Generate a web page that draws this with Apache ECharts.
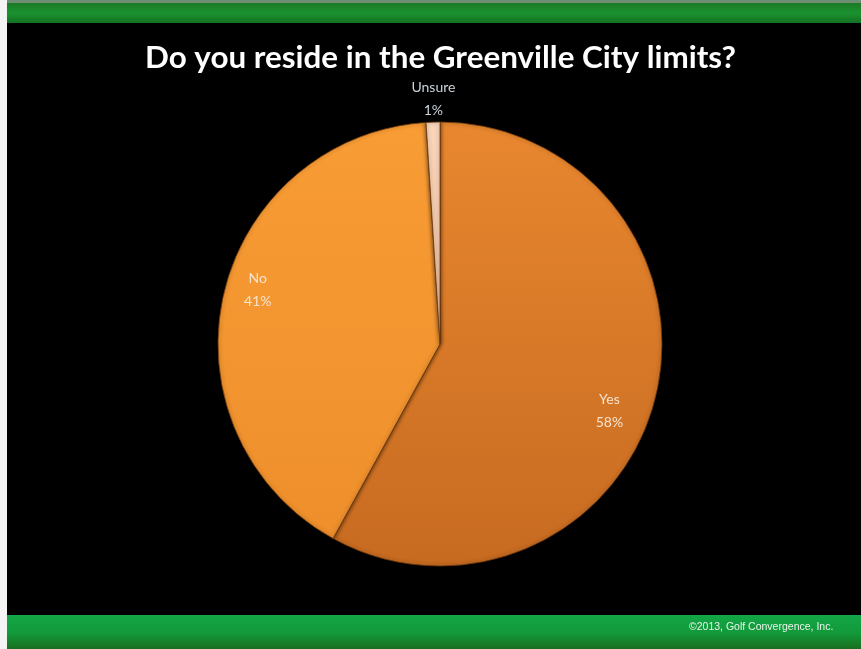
<!DOCTYPE html>
<html>
<head>
<meta charset="utf-8">
<style>
  html, body { margin: 0; padding: 0; background: #000; }
  #chart { width: 861px; height: 649px; }
</style>
<script src="https://cdn.jsdelivr.net/npm/echarts@6/dist/echarts.min.js"></script>
</head>
<body>
<div id="chart"></div>
<script>
// Survey answers and their shares (percent)
const categories = ['Yes', 'No', 'Unsure'];
const shares = [58, 41, 1];

const titleText = 'Do you reside in the Greenville City limits?';
const footerText = '\u00A92013, Golf Convergence, Inc.';

// Slice fills: top colour, bottom colour
const sliceFills = [
  ['#E8872F', '#C76B21'],
  ['#F89C35', '#EE8F2B'],
  ['#FAD6BC', '#F2C09E']
];
// Label nudges away from the default mid-radius spot
const labelShift = [[59, 39], [-71, -29], [-3, -131]];
const labelColors = ['#F6E3CF', '#F6E3CF', '#C9D2DA'];

const chart = echarts.init(document.getElementById('chart'), null, { renderer: 'canvas' });

const seriesData = categories.map((name, i) => ({
  name,
  value: shares[i],
  itemStyle: {
    color: new echarts.graphic.LinearGradient(0, 0, 0, 1, [
      { offset: 0, color: sliceFills[i][0] },
      { offset: 1, color: sliceFills[i][1] }
    ])
  },
  label: { color: labelColors[i] }
}));

chart.setOption({
  backgroundColor: '#000',
  animation: false,
  graphic: [
    // left white margin
    { type: 'rect', shape: { x: 0, y: 0, width: 7, height: 649 }, style: { fill: '#F4F4F4' }, z: 10 },
    // top thin light edge
    { type: 'rect', shape: { x: 0, y: 0, width: 861, height: 3 }, style: { fill: '#6E8E74' }, z: 9 },
    // top green bar
    {
      type: 'rect', shape: { x: 7, y: 3, width: 854, height: 20 },
      style: {
        fill: new echarts.graphic.LinearGradient(0, 0, 0, 1, [
          { offset: 0, color: '#1B7A26' },
          { offset: 0.5, color: '#1C9230' },
          { offset: 1, color: '#137222' }
        ])
      }, z: 9
    },
    // bottom green bar
    {
      type: 'rect', shape: { x: 7, y: 615, width: 854, height: 34 },
      style: {
        fill: new echarts.graphic.LinearGradient(0, 0, 0, 1, [
          { offset: 0, color: '#12A646' },
          { offset: 0.55, color: '#13993A' },
          { offset: 1, color: '#1A6E1E' }
        ])
      }, z: 9
    },
    {
      type: 'text', left: 689, top: 622, z: 11,
      style: {
        text: footerText, fill: '#E8F3E8',
        font: '10.5px "Liberation Sans Narrow", "Liberation Sans", sans-serif'
      }
    }
  ],
  title: {
    text: titleText,
    left: 140,
    top: 37,
    textStyle: {
      color: '#FFFFFF',
      fontFamily: 'Lato, "Open Sans", sans-serif',
      fontWeight: 'bold',
      fontSize: 31.4
    }
  },
  series: [{
    type: 'pie',
    center: [440, 344],
    radius: 222,
    startAngle: 90,
    clockwise: true,
    avoidLabelOverlap: false,
    itemStyle: {
      borderColor: 'rgba(110,55,10,0.75)',
      borderWidth: 1,
      shadowBlur: 4,
      shadowColor: 'rgba(0,0,0,0.6)'
    },
    emphasis: { disabled: true },
    label: {
      show: true,
      position: 'inside',
      formatter: p => p.name + '\n' + p.value + '%',
      fontFamily: 'Lato, "Open Sans", sans-serif',
      fontSize: 14,
      lineHeight: 23,
      align: 'center'
    },
    labelLine: { show: false },
    labelLayout: p => ({ dx: labelShift[p.dataIndex][0], dy: labelShift[p.dataIndex][1] }),
    data: seriesData
  }]
});
</script>
</body>
</html>
